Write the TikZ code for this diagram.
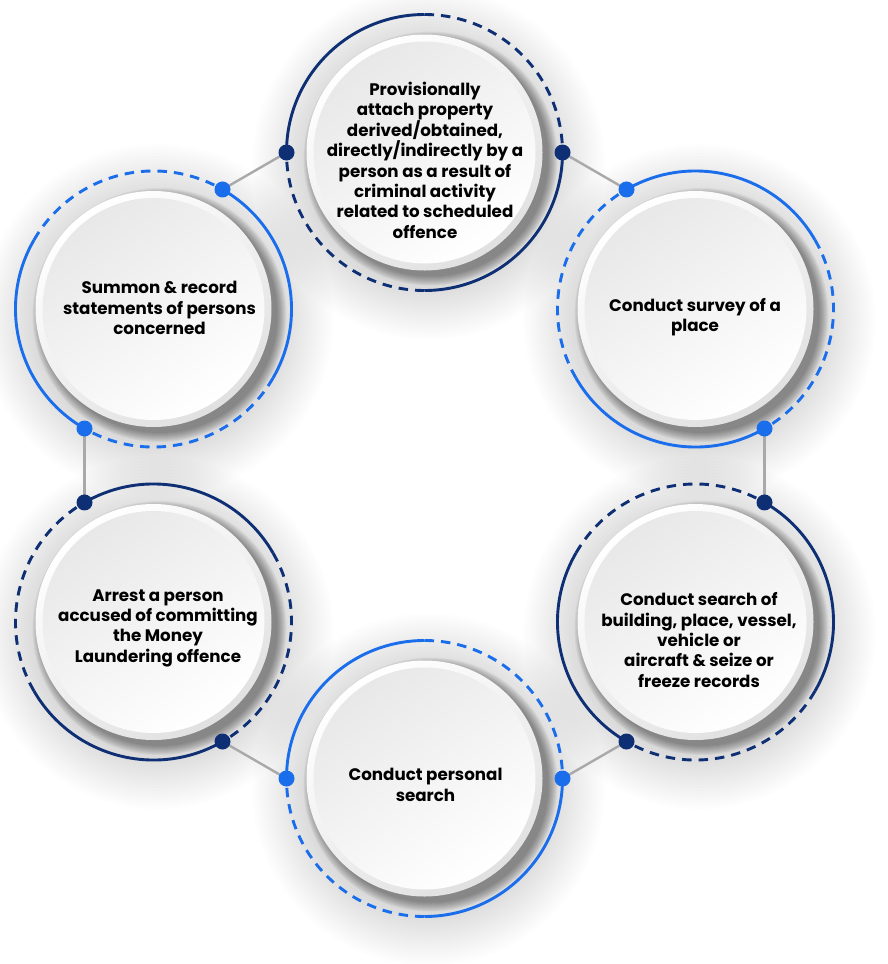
\documentclass[tikz,border=0pt]{standalone}
\usepackage{fontspec}
\setmainfont{Poppins}
\definecolor{navy}{HTML}{0E2F73}
\definecolor{bblue}{HTML}{1A6DEB}
\definecolor{conn}{HTML}{A9A9A9}
\begin{document}
\begin{tikzpicture}[x=1pt,y=1pt,
  ringsolid/.style={line width=2.9pt},
  ringdash/.style={line width=2.9pt, dash pattern=on 9.5pt off 7pt},
  dotnode/.style={circle, inner sep=0pt, minimum size=16pt, fill=#1},
  connline/.style={draw=conn, line width=2.4pt},
  label/.style={align=center, font=\fontsize{16.7}{20.3}\selectfont\bfseries, text=black}
]
\fill[white] (0,0) rectangle (887,-964);
\path[use as bounding box] (0,0) rectangle (887,-964);

% soft halos
\foreach \cx/\cy in {424.5/-152.5, 695.5/-309, 695.5/-622, 424.5/-778.5, 153.5/-622, 153.5/-309}{
  \foreach \r in {122,125,...,176}{
    \fill[black, opacity=0.009] (\cx+4,\cy-11) circle (\r);
  }
}
\foreach \cx/\cy in {424.5/-152.5, 695.5/-309, 695.5/-622, 424.5/-778.5, 153.5/-622, 153.5/-309}{
  \foreach \r in {118,...,127}{
    \fill[black, opacity=0.045] (\cx+6,\cy-6) circle (\r);
  }
}

% rings and disks
\foreach \n/\cx/\cy/\a/\c in {T/424.5/-152.5/180/navy, R/695.5/-309/120/bblue, S/695.5/-622/60/navy, B/424.5/-778.5/180/bblue, L/153.5/-622/120/navy, U/153.5/-309/60/bblue}{
  \coordinate (\n c) at (\cx,\cy);
  \coordinate (\n 1) at ([shift={(\a:138)}]\cx,\cy);
  \coordinate (\n 2) at ([shift={(\a-180:138)}]\cx,\cy);
  \draw[ringsolid, \c] (\n 1) arc[start angle=\a, end angle=\a-90, radius=138];
  \draw[ringdash, \c] ([shift={(\a-90:138)}]\cx,\cy) arc[start angle=\a-90, end angle=\a-180, radius=138];
  \draw[ringsolid, \c] (\n 2) arc[start angle=\a-180, end angle=\a-270, radius=138];
  \draw[ringdash, \c] ([shift={(\a-270:138)}]\cx,\cy) arc[start angle=\a-270, end angle=\a-360, radius=138];
  \shade[top color=white, bottom color=black!12, shading angle=35] (\n c) circle (118);
  \shade[top color=black!9, bottom color=white, shading angle=35] (\n c) circle (111);
}

% connectors
\draw[connline] (T2) -- (R1);
\draw[connline] (R2) -- (S1);
\draw[connline] (S2) -- (B2);
\draw[connline] (B1) -- (L2);
\draw[connline] (L1) -- (U2);
\draw[connline] (U1) -- (T1);

% dots
\node[dotnode=navy] (dT1) at (T1) {};
\node[dotnode=navy] (dT2) at (T2) {};
\node[dotnode=bblue] (dR1) at (R1) {};
\node[dotnode=bblue] (dR2) at (R2) {};
\node[dotnode=navy] (dS1) at (S1) {};
\node[dotnode=navy] (dS2) at (S2) {};
\node[dotnode=bblue] (dB1) at (B1) {};
\node[dotnode=bblue] (dB2) at (B2) {};
\node[dotnode=navy] (dL1) at (L1) {};
\node[dotnode=navy] (dL2) at (L2) {};
\node[dotnode=bblue] (dU1) at (U1) {};
\node[dotnode=bblue] (dU2) at (U2) {};

% texts
\node[label] (tT) at (425,-160) {Provisionally\\attach property\\derived/obtained,\\directly/indirectly by a\\person as a result of\\criminal activity\\related to scheduled\\offence};
\node[label] (tR) at (695,-317) {Conduct survey of a\\place};
\node[label] (tS) at (699,-640) {Conduct search of\\building, place, vessel,\\vehicle or\\aircraft \& seize or\\freeze records};
\node[label] (tB) at (425.5,-785) {Conduct personal\\search};
\node[label] (tL) at (158,-628) {Arrest a person\\accused of committing\\the Money\\Laundering offence};
\node[label] (tU) at (159.5,-308) {Summon \& record\\statements of persons\\concerned};
\end{tikzpicture}
\end{document}
